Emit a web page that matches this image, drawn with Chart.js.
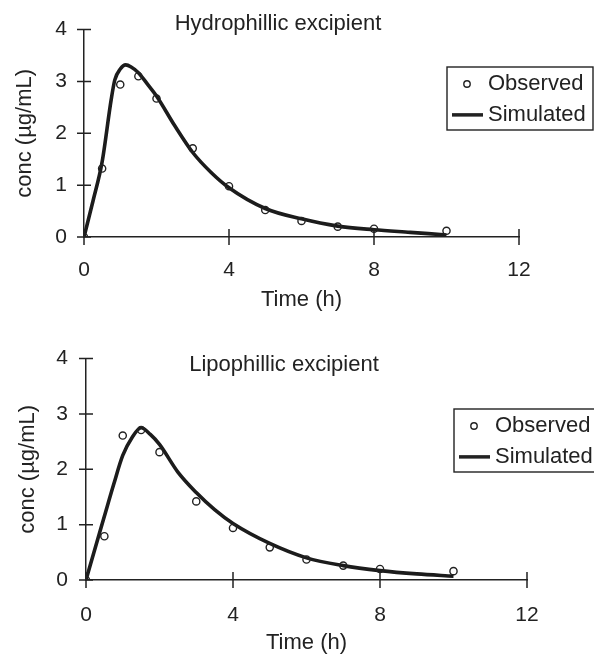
<!DOCTYPE html>
<html>
<head>
<meta charset="utf-8">
<script src="https://cdn.jsdelivr.net/npm/chart.js@4.4.1/dist/chart.umd.min.js"></script>
<style>
    body { margin: 0; background: #fff; }
    .panel { width: 594px; height: 328px; position: relative; }
</style>
</head>
<body>
<div class="panel"><canvas id="hydro" width="594" height="328"></canvas></div>
<div class="panel"><canvas id="lipo" width="594" height="328"></canvas></div>
<script>
// ---------------------------- Données ----------------------------
const timeObs = [0, 0.5, 1, 1.5, 2, 3, 4, 5, 6, 7, 8, 10];
const hydroObs = [0, 1.32, 2.94, 3.10, 2.67, 1.71, 0.98, 0.52, 0.31, 0.20, 0.16, 0.12];
const lipoObs = [0, 0.79, 2.61, 2.71, 2.31, 1.42, 0.94, 0.59, 0.37, 0.26, 0.20, 0.16];

const hydroSimTime = [0, 0.25, 0.5, 0.75, 0.85, 1.0, 1.15, 1.3, 1.5, 1.75, 2, 2.5, 3, 3.5, 4, 5, 6, 7, 8, 9, 10];
const hydroSim = [0, 0.7, 1.45, 2.65, 3.03, 3.24, 3.32, 3.28, 3.17, 2.95, 2.72, 2.15, 1.63, 1.25, 0.95, 0.55, 0.35, 0.21, 0.14, 0.09, 0.04];

const lipoSimTime = [0, 0.25, 0.5, 0.75, 1, 1.25, 1.5, 1.75, 2, 2.5, 3, 3.5, 4, 5, 6, 7, 8, 9, 10];
const lipoSim = [0, 0.58, 1.15, 1.72, 2.25, 2.57, 2.75, 2.63, 2.45, 1.95, 1.58, 1.27, 1.02, 0.66, 0.40, 0.26, 0.17, 0.11, 0.07];

const xTicks = [0, 4, 8, 12];
const yTicks = [0, 1, 2, 3, 4];
const seriesLabels = ['Observed', 'Simulated'];
const titles = ['Hydrophillic excipient', 'Lipophillic excipient'];
const xTitle = 'Time (h)';
const yTitle = 'conc (µg/mL)';

const FONT = '"Liberation Sans", Arial, sans-serif';
const INK = '#222';

// ---------------------------- Petits plugins de dessin ----------------------------
// graduations qui traversent les axes
const crossTicks = {
    id: 'crossTicks',
    afterDraw(chart) {
        const ctx = chart.ctx;
        const xs = chart.scales.x, ys = chart.scales.y;
        ctx.save();
        ctx.strokeStyle = INK;
        ctx.lineWidth = 1.5;
        ctx.beginPath();
        xTicks.forEach(v => {
            const px = xs.getPixelForValue(v);
            ctx.moveTo(px, ys.bottom - 8);
            ctx.lineTo(px, ys.bottom + 8);
        });
        yTicks.forEach(v => {
            const py = ys.getPixelForValue(v);
            ctx.moveTo(xs.left - 7, py);
            ctx.lineTo(xs.left + 7, py);
        });
        ctx.stroke();
        ctx.restore();
    }
};

// titre et légende placés comme sur la figure
const overlay = {
    id: 'overlay',
    afterDraw(chart, args, opts) {
        const ctx = chart.ctx;
        ctx.save();
        ctx.fillStyle = INK;
        ctx.font = '22px ' + FONT;
        ctx.textAlign = 'center';
        ctx.textBaseline = 'middle';
        ctx.fillText(opts.title, opts.titleX, opts.titleY);

        const b = opts.box;
        ctx.fillStyle = '#fff';
        ctx.fillRect(b.x, b.y, b.w, b.h);
        ctx.strokeStyle = INK;
        ctx.lineWidth = 1.4;
        ctx.strokeRect(b.x, b.y, b.w, b.h);

        const ds = chart.data.datasets;
        const row1 = b.y + b.h * 0.27, row2 = b.y + b.h * 0.76;
        ctx.beginPath();
        ctx.arc(b.x + 20, row1, 3.2, 0, Math.PI * 2);
        ctx.lineWidth = 1.4;
        ctx.stroke();
        ctx.beginPath();
        ctx.moveTo(b.x + 5, row2);
        ctx.lineTo(b.x + 36, row2);
        ctx.lineWidth = 3.5;
        ctx.stroke();

        ctx.fillStyle = INK;
        ctx.textAlign = 'left';
        ctx.fillText(ds[0].label, b.x + 41, row1);
        ctx.fillText(ds[1].label, b.x + 41, row2);
        ctx.restore();
    }
};

function toPoints(xs, ys) {
    return xs.map((x, i) => ({ x: x, y: ys[i] }));
}

function buildChart(canvasId, obs, simTime, sim, geo, overlayOpts) {
    return new Chart(document.getElementById(canvasId), {
        type: 'scatter',
        data: {
            datasets: [{
                label: seriesLabels[0],
                data: toPoints(timeObs, obs),
                pointStyle: 'circle',
                pointRadius: 3.6,
                pointBorderWidth: 1.4,
                pointBorderColor: INK,
                pointBackgroundColor: 'rgba(0,0,0,0)',
                showLine: false
            }, {
                label: seriesLabels[1],
                data: toPoints(simTime, sim),
                showLine: true,
                pointRadius: 0,
                borderColor: '#1c1c1c',
                borderWidth: 3.6,
                cubicInterpolationMode: 'monotone'
            }]
        },
        options: {
            responsive: false,
            animation: false,
            layout: { padding: { left: 0, right: geo.padRight, top: geo.padTop, bottom: 0 } },
            plugins: {
                legend: { display: false },
                tooltip: { enabled: false },
                overlay: overlayOpts
            },
            scales: {
                x: {
                    type: 'linear',
                    min: 0, max: 12,
                    afterBuildTicks: scale => { scale.ticks = xTicks.map(v => ({ value: v })); },
                    afterFit: scale => { scale.height = geo.xHeight; },
                    grid: { display: true, drawOnChartArea: false, drawTicks: false },
                    border: { display: true, color: INK, width: 1.5 },
                    ticks: { color: INK, font: { family: FONT, size: 21 }, padding: geo.xTickPad, maxRotation: 0 },
                    title: { display: true, text: xTitle, color: INK, font: { family: FONT, size: 22 },
                             padding: { top: 0, bottom: geo.xTitlePad } }
                },
                y: {
                    type: 'linear',
                    min: 0, max: 4,
                    afterBuildTicks: scale => { scale.ticks = yTicks.map(v => ({ value: v })); },
                    afterFit: scale => { scale.width = geo.yWidth; },
                    grid: { display: true, drawOnChartArea: false, drawTicks: false },
                    border: { display: true, color: INK, width: 1.5 },
                    ticks: { color: INK, font: { family: FONT, size: 21 }, padding: geo.yTickPad },
                    title: { display: true, text: yTitle, color: INK, font: { family: FONT, size: 22 },
                             padding: { top: geo.yTitlePad, bottom: 0 } }
                }
            }
        },
        plugins: [crossTicks, overlay]
    });
}

document.addEventListener('DOMContentLoaded', () => {
    buildChart('hydro', hydroObs, hydroSimTime, hydroSim,
        { padRight: 75, padTop: 21, xHeight: 91, yWidth: 84, xTickPad: 21, yTickPad: 17, xTitlePad: 15, yTitlePad: 12 },
        { title: titles[0], titleX: 278, titleY: 24, box: { x: 447, y: 67, w: 146, h: 63 } });
    buildChart('lipo', lipoObs, lipoSimTime, lipoSim,
        { padRight: 67, padTop: 29, xHeight: 76, yWidth: 86, xTickPad: 23, yTickPad: 18, xTitlePad: 0, yTitlePad: 15 },
        { title: titles[1], titleX: 284, titleY: 37, box: { x: 454, y: 81, w: 146, h: 63 } });
});
</script>
</body>
</html>
